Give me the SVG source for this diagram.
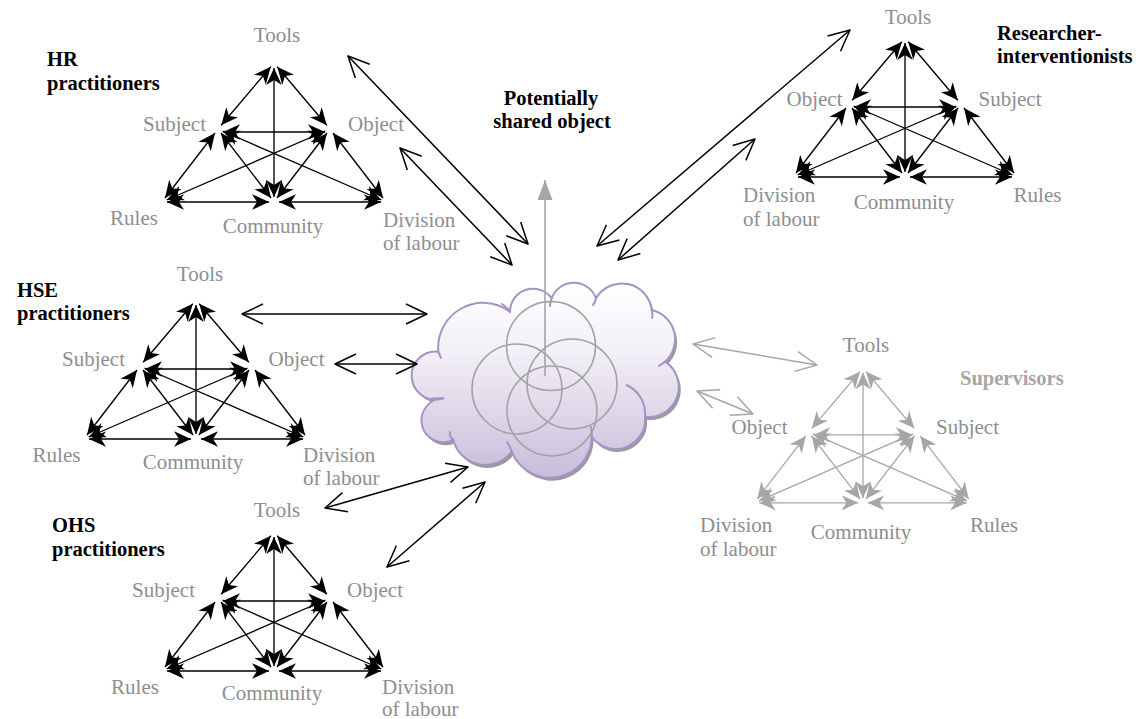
<svg xmlns="http://www.w3.org/2000/svg" width="1143" height="719" viewBox="0 0 1143 719">
  <style>
    .lbl { font-family: "Liberation Serif", "Times New Roman", serif; font-size: 21px; fill: #8e8e8e; }
    .ttl { font-family: "Liberation Serif", "Times New Roman", serif; font-size: 20.5px; font-weight: bold; fill: #000; }
    .ttl.gray { fill: #a6a6a6; }
    .mid { text-anchor: middle; }
    .edges line { stroke: #000; stroke-width: 1.35; marker-start: url(#hb); marker-end: url(#hb); }
    .gray-sys .edges line { stroke: #a6a6a6; marker-start: url(#hg); marker-end: url(#hg); }
    .link { stroke: #000; stroke-width: 1.5; fill: none; marker-start: url(#ob); marker-end: url(#ob); }
    .link.gray { stroke: #a6a6a6; marker-start: url(#og); marker-end: url(#og); }
    .ring { fill: none; stroke: #a2a2a2; stroke-width: 1.5; }
    .lobe { fill: none; stroke: #a593c6; stroke-width: 2; stroke-linecap: round; }
  </style>
  <defs>
    <!-- filled barbed head used inside every activity triangle -->
    <marker id="hb" viewBox="0 -8.5 18 17" refX="17" refY="0" markerWidth="18" markerHeight="17" markerUnits="userSpaceOnUse" orient="auto-start-reverse">
      <path d="M17,0 L0,-7.8 L5,0 L0,7.8 Z" fill="#000"/>
    </marker>
    <marker id="hg" viewBox="0 -8.5 18 17" refX="17" refY="0" markerWidth="18" markerHeight="17" markerUnits="userSpaceOnUse" orient="auto-start-reverse">
      <path d="M17,0 L0,-7.8 L5,0 L0,7.8 Z" fill="#a6a6a6"/>
    </marker>
    <!-- open V heads for the links to the shared object -->
    <marker id="ob" viewBox="-24 -12 26 24" refX="0" refY="0" markerWidth="26" markerHeight="24" markerUnits="userSpaceOnUse" orient="auto-start-reverse">
      <path d="M-21,-10 L0,0 L-21,10" fill="none" stroke="#000" stroke-width="1.5" stroke-linejoin="round"/>
    </marker>
    <marker id="og" viewBox="-24 -12 26 24" refX="0" refY="0" markerWidth="26" markerHeight="24" markerUnits="userSpaceOnUse" orient="auto-start-reverse">
      <path d="M-21,-10 L0,0 L-21,10" fill="none" stroke="#a6a6a6" stroke-width="1.5" stroke-linejoin="round"/>
    </marker>
    <marker id="up" viewBox="0 -8 20 16" refX="20" refY="0" markerWidth="20" markerHeight="16" markerUnits="userSpaceOnUse" orient="auto">
      <path d="M20,0 L0,-7.5 L0,7.5 Z" fill="#a6a6a6"/>
    </marker>
    <linearGradient id="cloudFill" x1="0" y1="0" x2="0" y2="1">
      <stop offset="0" stop-color="#ffffff"/>
      <stop offset="0.35" stop-color="#f3f0f7"/>
      <stop offset="1" stop-color="#c8bcda"/>
    </linearGradient>
    <path id="cloudShape" d="M438.3,351.7 A45,45 0 0 1 510,311.7 A23,23 0 0 1 551.7,298.3 A23.5,23.5 0 0 1 596,298.3 A30,30 0 0 1 651.7,310 A30,30 0 0 1 665,361.7 A30,30 0 0 1 645,416.7 A29.5,29.5 0 0 1 591.7,436.7 A41.5,41.5 0 0 1 511.7,451.7 A33,33 0 0 1 453.3,440 A22,22 0 1 1 443.3,398.3 A24,24 0 1 1 438.3,351.7 Z"/>
  </defs>

  <rect width="1143" height="719" fill="#fff"/>

  <!-- shared object cloud -->
  <g id="shared-object">
    <use href="#cloudShape" transform="translate(2,3)" fill="#9a9a9a"/>
    <use href="#cloudShape" fill="url(#cloudFill)" stroke="#a593c6" stroke-width="2"/>
    <path class="lobe" d="M438.3,351.7 Q440,356 441,358"/>
    <path class="lobe" d="M510,311.7 Q507,307 502,304"/>
    <path class="lobe" d="M551.7,298.3 Q550,302 550,306"/>
    <path class="lobe" d="M596,298.3 Q595,303 593,305"/>
    <path class="lobe" d="M651.7,310 Q653,314 652,318"/>
    <path class="lobe" d="M665,361.7 Q662,364 659,366"/>
    <path class="lobe" d="M626.7,385 A32,32 0 0 1 645,416.7"/>
    <path class="lobe" d="M591.7,436.7 Q592,430 591,427"/>
    <path class="lobe" d="M511.7,451.7 Q510,446 507,442"/>
    <path class="lobe" d="M453.3,440 Q449,436 450,432"/>
    <path class="lobe" d="M443.3,398.3 Q437,398 432,398.5"/>
    <circle class="ring" cx="551" cy="346" r="44.5"/>
    <circle class="ring" cx="517" cy="389" r="45"/>
    <circle class="ring" cx="572" cy="384" r="45"/>
    <circle class="ring" cx="552" cy="411" r="45"/>
    <text class="ttl mid" x="551" y="105">Potentially</text>
    <text class="ttl mid" x="552" y="128">shared object</text>
  </g>

  <!-- HR practitioners -->
  <g id="hr-practitioners">
    <text class="ttl" x="47" y="66">HR</text>
    <text class="ttl" x="47" y="90">practitioners</text>
    <g class="edges" transform="translate(274,63)">
      <line x1="-3.2" y1="3.8" x2="-52.8" y2="62.2"/>
      <line x1="3.2" y1="3.8" x2="52.8" y2="62.2"/>
      <line x1="0" y1="5" x2="0" y2="134"/>
      <line x1="-51" y1="69" x2="51" y2="69"/>
      <line x1="-59" y1="70" x2="-109" y2="135"/>
      <line x1="59" y1="70" x2="109" y2="135"/>
      <line x1="-53" y1="70" x2="-3" y2="135"/>
      <line x1="53" y1="70" x2="3" y2="135"/>
      <line x1="-51.4" y1="68" x2="107.4" y2="137"/>
      <line x1="51.4" y1="68" x2="-107.4" y2="137"/>
      <line x1="-107" y1="139" x2="-5" y2="139"/>
      <line x1="5" y1="139" x2="107" y2="139"/>
    </g>
    <text class="lbl mid" x="277" y="42">Tools</text>
    <text class="lbl mid" x="174.5" y="131">Subject</text>
    <text class="lbl mid" x="376" y="131">Object</text>
    <text class="lbl mid" x="134" y="225">Rules</text>
    <text class="lbl mid" x="273" y="233">Community</text>
    <text class="lbl" x="383" y="227">Division</text>
    <text class="lbl" x="383" y="250">of labour</text>
  </g>

  <!-- HSE practitioners -->
  <g id="hse-practitioners">
    <text class="ttl" x="17" y="297">HSE</text>
    <text class="ttl" x="17" y="320">practitioners</text>
    <g class="edges" transform="translate(196,300)">
      <line x1="-3.2" y1="3.8" x2="-52.8" y2="62.2"/>
      <line x1="3.2" y1="3.8" x2="52.8" y2="62.2"/>
      <line x1="0" y1="5" x2="0" y2="134"/>
      <line x1="-51" y1="69" x2="51" y2="69"/>
      <line x1="-59" y1="70" x2="-109" y2="135"/>
      <line x1="59" y1="70" x2="109" y2="135"/>
      <line x1="-53" y1="70" x2="-3" y2="135"/>
      <line x1="53" y1="70" x2="3" y2="135"/>
      <line x1="-51.4" y1="68" x2="107.4" y2="137"/>
      <line x1="51.4" y1="68" x2="-107.4" y2="137"/>
      <line x1="-107" y1="139" x2="-5" y2="139"/>
      <line x1="5" y1="139" x2="107" y2="139"/>
    </g>
    <text class="lbl mid" x="200" y="281">Tools</text>
    <text class="lbl mid" x="93.5" y="366">Subject</text>
    <text class="lbl mid" x="296.5" y="366">Object</text>
    <text class="lbl mid" x="56.5" y="462">Rules</text>
    <text class="lbl mid" x="193" y="469">Community</text>
    <text class="lbl" x="303" y="462">Division</text>
    <text class="lbl" x="303" y="485">of labour</text>
  </g>

  <!-- OHS practitioners -->
  <g id="ohs-practitioners">
    <text class="ttl" x="52" y="532">OHS</text>
    <text class="ttl" x="52" y="556">practitioners</text>
    <g class="edges" transform="translate(274,532)">
      <line x1="-3.2" y1="3.8" x2="-52.8" y2="62.2"/>
      <line x1="3.2" y1="3.8" x2="52.8" y2="62.2"/>
      <line x1="0" y1="5" x2="0" y2="134"/>
      <line x1="-51" y1="69" x2="51" y2="69"/>
      <line x1="-59" y1="70" x2="-109" y2="135"/>
      <line x1="59" y1="70" x2="109" y2="135"/>
      <line x1="-53" y1="70" x2="-3" y2="135"/>
      <line x1="53" y1="70" x2="3" y2="135"/>
      <line x1="-51.4" y1="68" x2="107.4" y2="137"/>
      <line x1="51.4" y1="68" x2="-107.4" y2="137"/>
      <line x1="-107" y1="139" x2="-5" y2="139"/>
      <line x1="5" y1="139" x2="107" y2="139"/>
    </g>
    <text class="lbl mid" x="277" y="517">Tools</text>
    <text class="lbl mid" x="163.5" y="597">Subject</text>
    <text class="lbl mid" x="375" y="597">Object</text>
    <text class="lbl mid" x="135" y="694">Rules</text>
    <text class="lbl mid" x="272" y="700">Community</text>
    <text class="lbl" x="382" y="694">Division</text>
    <text class="lbl" x="382" y="716">of labour</text>
  </g>

  <!-- Researcher-interventionists -->
  <g id="researcher-interventionists">
    <text class="ttl" x="997" y="40">Researcher-</text>
    <text class="ttl" x="997" y="63">interventionists</text>
    <g class="edges" transform="translate(905,38)">
      <line x1="-3.2" y1="3.8" x2="-52.8" y2="62.2"/>
      <line x1="3.2" y1="3.8" x2="52.8" y2="62.2"/>
      <line x1="0" y1="5" x2="0" y2="134"/>
      <line x1="-51" y1="69" x2="51" y2="69"/>
      <line x1="-59" y1="70" x2="-109" y2="135"/>
      <line x1="59" y1="70" x2="109" y2="135"/>
      <line x1="-53" y1="70" x2="-3" y2="135"/>
      <line x1="53" y1="70" x2="3" y2="135"/>
      <line x1="-51.4" y1="68" x2="107.4" y2="137"/>
      <line x1="51.4" y1="68" x2="-107.4" y2="137"/>
      <line x1="-107" y1="139" x2="-5" y2="139"/>
      <line x1="5" y1="139" x2="107" y2="139"/>
    </g>
    <text class="lbl mid" x="908" y="24">Tools</text>
    <text class="lbl mid" x="814.5" y="106">Object</text>
    <text class="lbl mid" x="1010" y="106">Subject</text>
    <text class="lbl" x="743" y="202">Division</text>
    <text class="lbl" x="743" y="226">of labour</text>
    <text class="lbl mid" x="904" y="209">Community</text>
    <text class="lbl mid" x="1037.5" y="202">Rules</text>
  </g>

  <!-- Supervisors -->
  <g id="supervisors" class="gray-sys">
    <text class="ttl gray" x="960" y="385">Supervisors</text>
    <g class="edges" transform="translate(863,368) scale(0.97)">
      <line x1="-3.2" y1="3.8" x2="-52.8" y2="62.2"/>
      <line x1="3.2" y1="3.8" x2="52.8" y2="62.2"/>
      <line x1="0" y1="5" x2="0" y2="134"/>
      <line x1="-51" y1="69" x2="51" y2="69"/>
      <line x1="-59" y1="70" x2="-109" y2="135"/>
      <line x1="59" y1="70" x2="109" y2="135"/>
      <line x1="-53" y1="70" x2="-3" y2="135"/>
      <line x1="53" y1="70" x2="3" y2="135"/>
      <line x1="-51.4" y1="68" x2="107.4" y2="137"/>
      <line x1="51.4" y1="68" x2="-107.4" y2="137"/>
      <line x1="-107" y1="139" x2="-5" y2="139"/>
      <line x1="5" y1="139" x2="107" y2="139"/>
    </g>
    <text class="lbl mid" x="866" y="352">Tools</text>
    <text class="lbl mid" x="759.5" y="434">Object</text>
    <text class="lbl mid" x="967.5" y="434">Subject</text>
    <text class="lbl" x="700" y="532">Division</text>
    <text class="lbl" x="700" y="556">of labour</text>
    <text class="lbl mid" x="861" y="539">Community</text>
    <text class="lbl mid" x="994" y="532">Rules</text>
  </g>

  <!-- links between each activity system and the shared object -->
  <g id="connectors">
    <line class="link" x1="348" y1="56" x2="528" y2="244"/>
    <line class="link" x1="400" y1="148" x2="512" y2="265"/>
    <line class="link" x1="242" y1="314" x2="427" y2="314"/>
    <line class="link" x1="335" y1="364" x2="417" y2="364"/>
    <line class="link" x1="325" y1="508" x2="468" y2="467"/>
    <line class="link" x1="387" y1="567" x2="485" y2="482"/>
    <line class="link" x1="597" y1="246" x2="850" y2="30"/>
    <line class="link" x1="618" y1="260" x2="755" y2="139"/>
    <line class="link gray" x1="693" y1="344" x2="817" y2="365"/>
    <line class="link gray" x1="697" y1="391" x2="753" y2="414"/>
    <line x1="545" y1="376" x2="545" y2="180" stroke="#a6a6a6" stroke-width="1.6" marker-end="url(#up)"/>
  </g>
</svg>
